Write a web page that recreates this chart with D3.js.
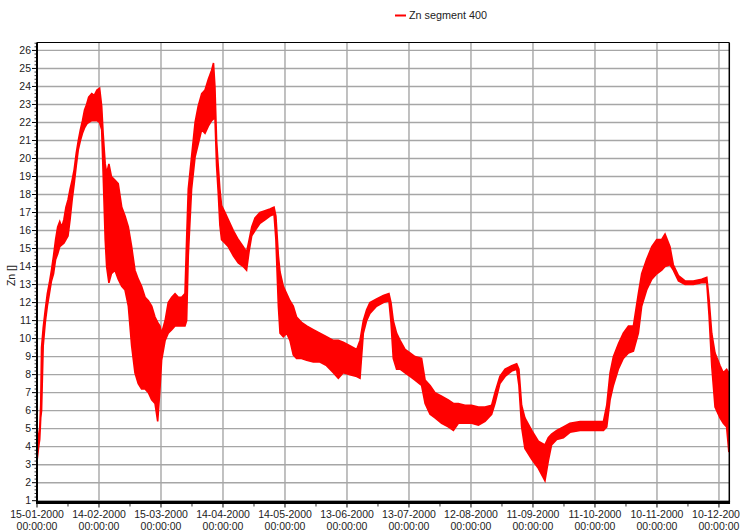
<!DOCTYPE html>
<html>
<head>
<meta charset="utf-8">
<script src="https://cdn.jsdelivr.net/npm/d3@7"></script>
<style>
  html, body { margin: 0; padding: 0; background: #fff; }
  svg { display: block; font-family: "Liberation Sans", Arial, sans-serif; }
</style>
</head>
<body>
<svg id="chart" width="740" height="532"></svg>
<script>
// Zn segment 400: sampled envelope of the measured signal.
// sampleDay = days since 15-01-2000; znHigh / znLow = upper / lower edge of the signal band.
const sampleDay = [0, 0.7, 1.3, 1.8, 2.2, 3, 4, 5, 6, 7, 8, 9, 10, 11, 12, 13, 14, 15, 16, 17, 18, 19, 20, 21, 22, 23, 24, 25, 26.5, 27.7, 29, 30.3, 31.3, 32, 33, 33.7, 34.8, 36, 37.7, 39.3, 41, 42.6, 44.2, 45.8, 47.4, 49, 50.6, 52.3, 53.9, 55.5, 57.1, 58.4, 59.5, 60.3, 62, 63.5, 65.2, 66.8, 68.4, 70, 71.6, 72.4, 73.2, 74.8, 76.5, 78, 79.7, 81.3, 82.9, 84.5, 85.4, 86.1, 86.9, 87.7, 88.5, 89.3, 91, 92.6, 95, 97.4, 99.8, 101.4, 102.7, 103.9, 105.5, 107.9, 110.3, 112.7, 114.7, 115.6, 116.8, 117.6, 119.2, 120.8, 122.4, 124, 125.6, 128, 130.5, 133.7, 136.9, 140.1, 143.4, 145.8, 148.2, 151.4, 154.7, 156.3, 157.9, 159.5, 161.1, 164.3, 167.6, 170.3, 171.3, 172.4, 174, 175.7, 178.1, 180.5, 182.9, 186.1, 187.8, 190.2, 192.6, 195.8, 199, 201.5, 203.9, 207.1, 210.3, 213.6, 216.8, 220, 221.6, 224, 226.5, 229.7, 232.1, 233.2, 234.5, 236.1, 239.4, 242.6, 245.8, 247.4, 249, 251.5, 254.7, 257.9, 262.8, 267.6, 274.1, 275.7, 277.3, 278.9, 281.3, 283.7, 286.2, 288.6, 291, 292.6, 295, 297.5, 299.9, 302.3, 303.9, 306.3, 307.9, 310.4, 313.6, 317.6, 321.6, 324.1, 325.2, 326.5, 328.1, 330.5, 332.1, 333.7, 334.8];
const znHigh = [3.6, 4.6, 5.0, 6.3, 9.5, 10.6, 11.6, 12.5, 13.1, 13.8, 14.6, 15.5, 16.2, 16.5, 16.2, 16.6, 17.3, 17.7, 18.3, 18.8, 19.4, 20.3, 21.0, 21.6, 22.1, 22.7, 23.0, 23.4, 23.6, 23.5, 23.8, 23.9, 22.9, 21.4, 19.7, 19.2, 19.7, 19.0, 18.8, 18.6, 17.3, 16.8, 16.2, 15.1, 13.8, 13.3, 12.9, 12.3, 12.1, 11.8, 11.2, 10.9, 10.7, 10.3, 11.0, 12.0, 12.3, 12.5, 12.3, 12.3, 12.5, 15.5, 18.3, 20.1, 22.0, 22.9, 23.6, 23.8, 24.4, 24.9, 25.3, 24.0, 21.0, 19.6, 18.3, 17.4, 17.0, 16.6, 16.0, 15.5, 15.1, 14.8, 15.5, 16.2, 16.7, 17.0, 17.1, 17.2, 17.3, 16.8, 14.6, 13.7, 12.9, 12.5, 12.1, 11.8, 11.2, 10.9, 10.7, 10.5, 10.3, 10.1, 9.9, 9.9, 9.8, 9.6, 9.4, 9.9, 11.0, 11.6, 12.0, 12.2, 12.4, 12.5, 12.0, 11.0, 10.3, 9.9, 9.4, 9.2, 9.0, 8.9, 7.7, 7.4, 7.0, 6.8, 6.6, 6.4, 6.4, 6.3, 6.3, 6.2, 6.2, 6.3, 7.0, 7.9, 8.3, 8.5, 8.6, 8.3, 6.3, 5.6, 4.9, 4.3, 4.1, 4.5, 4.7, 4.9, 5.1, 5.3, 5.4, 5.4, 5.4, 6.3, 8.1, 9.0, 9.7, 10.3, 10.7, 10.7, 12.5, 13.6, 14.4, 15.1, 15.5, 15.5, 15.8, 15.1, 14.1, 13.5, 13.2, 13.2, 13.3, 13.4, 12.2, 10.3, 9.2, 8.5, 8.1, 8.3, 8.1];
const znLow = [3.2, 3.9, 4.4, 5.6, 6.0, 9.6, 10.9, 11.8, 12.5, 13.2, 13.6, 14.4, 14.7, 15.1, 15.2, 15.3, 15.5, 15.7, 16.6, 17.7, 18.6, 19.6, 20.5, 21.0, 21.4, 21.7, 21.9, 22.0, 22.1, 22.1, 22.1, 22.0, 21.6, 19.2, 15.5, 14.0, 13.1, 13.6, 13.8, 13.3, 12.9, 12.7, 11.8, 9.6, 8.1, 7.5, 7.2, 7.2, 7.0, 6.6, 6.4, 5.4, 7.2, 8.8, 9.9, 10.3, 10.5, 10.7, 10.7, 10.7, 10.7, 11.0, 14.6, 18.3, 20.1, 20.8, 21.6, 21.4, 21.8, 22.1, 22.2, 22.3, 19.6, 18.1, 16.3, 15.5, 15.3, 15.1, 14.6, 14.2, 14.0, 13.8, 14.9, 15.7, 16.0, 16.4, 16.6, 16.8, 16.9, 15.5, 11.8, 10.3, 10.1, 10.3, 9.9, 9.1, 8.9, 8.9, 8.8, 8.7, 8.7, 8.5, 8.1, 7.8, 8.1, 8.0, 7.9, 7.8, 10.3, 11.0, 11.4, 11.8, 12.0, 12.1, 10.9, 8.9, 8.3, 8.3, 8.1, 7.9, 7.7, 7.4, 6.4, 5.8, 5.6, 5.3, 5.1, 4.9, 5.3, 5.3, 5.3, 5.2, 5.4, 5.8, 6.4, 7.5, 7.9, 8.2, 8.3, 7.4, 5.1, 3.9, 3.3, 2.8, 2.1, 3.2, 4.1, 4.4, 4.5, 4.8, 4.9, 4.9, 4.9, 5.1, 6.6, 7.4, 8.3, 8.9, 9.2, 9.3, 10.3, 11.8, 12.7, 13.3, 13.6, 13.8, 14.0, 14.1, 13.8, 13.2, 13.0, 13.0, 13.1, 13.1, 11.3, 8.5, 6.2, 5.6, 5.3, 5.1, 3.7];

// Axis tick labels
const xTickLabels = ["15-01-2000", "14-02-2000", "15-03-2000", "14-04-2000", "14-05-2000", "13-06-2000", "13-07-2000", "12-08-2000", "11-09-2000", "11-10-2000", "10-11-2000", "10-12-2000"];
const yTickValues = [1, 2, 3, 4, 5, 6, 7, 8, 9, 10, 11, 12, 13, 14, 15, 16, 17, 18, 19, 20, 21, 22, 23, 24, 25, 26];
const seriesName = "Zn segment 400";
const yTitle = "Zn []";

const DAY = 86400000;
const t0 = Date.UTC(2000, 0, 15);
const parseDMY = d3.utcParse("%d-%m-%Y");

const plot = { left: 37, right: 729.3, top: 42.5, bottom: 502.5 };

const x = d3.scaleUtc()
  .domain([new Date(t0), new Date(Date.UTC(2000, 11, 15))])
  .range([plot.left, plot.right]);
const y = d3.scaleLinear()
  .domain([0.9, 26.44])
  .range([plot.bottom, plot.top]);

const svg = d3.select("#chart");

const xTickDates = xTickLabels.map(parseDMY);
const xMinorDates = xTickDates.map(d => new Date(+d + 15 * DAY)).filter(d => d <= x.domain()[1]);

// grid
const grid = svg.append("g");
grid.selectAll("line.h").data(yTickValues).join("line")
  .attr("x1", plot.left).attr("x2", plot.right)
  .attr("y1", d => y(d)).attr("y2", d => y(d))
  .attr("stroke", "#a6a6a6").attr("stroke-width", 1.4);
grid.selectAll("line.v").data(xTickDates.slice(1)).join("line")
  .attr("x1", d => x(d)).attr("x2", d => x(d))
  .attr("y1", plot.top).attr("y2", plot.bottom)
  .attr("stroke", "#a6a6a6").attr("stroke-width", 1.4);

// signal band
const samples = sampleDay.map((d, i) => ({ t: new Date(t0 + d * DAY), hi: znHigh[i], lo: znLow[i] }));
const band = d3.area()
  .x(d => x(d.t))
  .y0(d => y(d.lo))
  .y1(d => y(d.hi));
svg.append("path")
  .datum(samples)
  .attr("d", band)
  .attr("fill", "#ff0000")
  .attr("stroke", "#ff0000")
  .attr("stroke-width", 1.6)
  .attr("stroke-linejoin", "miter");

// frame
svg.append("line").attr("x1", plot.left).attr("x2", plot.right)
  .attr("y1", plot.top).attr("y2", plot.top).attr("stroke", "#000").attr("stroke-width", 1);
svg.append("line").attr("x1", plot.right).attr("x2", plot.right)
  .attr("y1", plot.top).attr("y2", plot.bottom).attr("stroke", "#000").attr("stroke-width", 1.5);

// y axis
const yAxis = svg.append("g").attr("transform", `translate(${plot.left},0)`);
const yMinor = d3.range(1, 26.44, 0.2).filter(v => Math.abs(v - Math.round(v)) > 1e-6);
yAxis.selectAll("line.minor").data(yMinor).join("line")
  .attr("x1", -2.5).attr("x2", 0)
  .attr("y1", d => y(d)).attr("y2", d => y(d))
  .attr("stroke", "#000").attr("stroke-width", 0.8);
yAxis.selectAll("line.major").data(yTickValues).join("line")
  .attr("x1", -5).attr("x2", 0)
  .attr("y1", d => y(d)).attr("y2", d => y(d))
  .attr("stroke", "#000").attr("stroke-width", 1);
yAxis.selectAll("text").data(yTickValues).join("text")
  .attr("x", -6).attr("y", d => y(d))
  .attr("dy", "0.35em")
  .attr("text-anchor", "end")
  .attr("font-size", 10.5)
  .attr("fill", "#222")
  .text(d => d);
yAxis.append("line").attr("x1", 0).attr("x2", 0)
  .attr("y1", plot.top).attr("y2", plot.bottom + 1.5)
  .attr("stroke", "#000").attr("stroke-width", 2);

// x axis
const xAxis = svg.append("g").attr("transform", `translate(0,${plot.bottom})`);
xAxis.append("line").attr("x1", plot.left - 1).attr("x2", plot.right + 0.75)
  .attr("y1", 0).attr("y2", 0).attr("stroke", "#000").attr("stroke-width", 3);
xAxis.selectAll("line.minor").data(xMinorDates).join("line")
  .attr("x1", d => x(d)).attr("x2", d => x(d))
  .attr("y1", 1).attr("y2", 4)
  .attr("stroke", "#000").attr("stroke-width", 0.8);
xAxis.selectAll("line.major").data(xTickDates).join("line")
  .attr("x1", d => x(d)).attr("x2", d => x(d))
  .attr("y1", 1).attr("y2", 5)
  .attr("stroke", "#000").attr("stroke-width", 1);
const fmtTime = d3.utcFormat("%H:%M:%S");
const xLabels = xAxis.selectAll("text").data(xTickDates).join("text")
  .attr("text-anchor", "middle")
  .attr("font-size", 10.5)
  .attr("fill", "#222");
xLabels.append("tspan").attr("x", d => x(d)).attr("y", 15).text((d, i) => xTickLabels[i]);
xLabels.append("tspan").attr("x", d => x(d)).attr("y", 27).text(d => fmtTime(d));

// y title
svg.append("text")
  .attr("transform", `translate(15,${(y(14) + y(13)) / 2}) rotate(-90)`)
  .attr("text-anchor", "middle")
  .attr("font-size", 10.5)
  .attr("fill", "#222")
  .text(yTitle);

// legend
const legend = svg.append("g").attr("transform", "translate(395,15.5)");
legend.append("line").attr("x1", 0).attr("x2", 11).attr("y1", 0).attr("y2", 0)
  .attr("stroke", "#ff0000").attr("stroke-width", 2);
legend.append("text").attr("x", 14).attr("y", 0).attr("dy", "0.35em")
  .attr("font-size", 10.8).attr("fill", "#222").text(seriesName);
</script>
</body>
</html>
